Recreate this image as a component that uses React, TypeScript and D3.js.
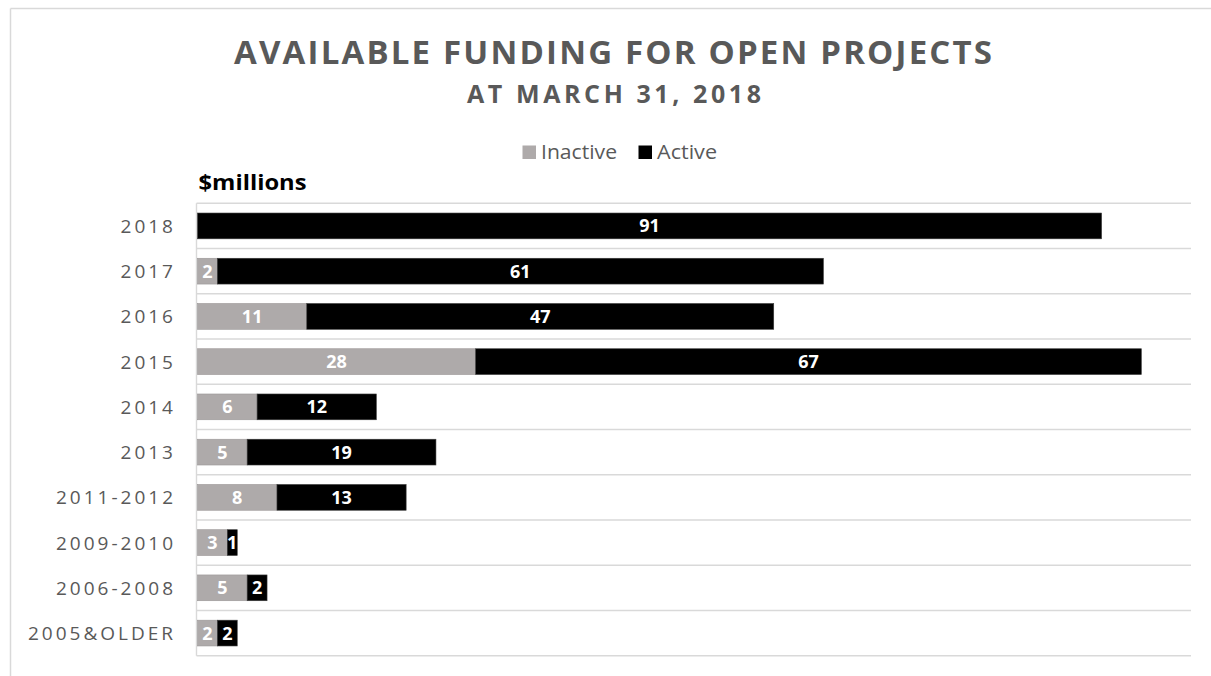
import React from "react";
import * as d3 from "d3";

const categories = ["2018", "2017", "2016", "2015", "2014", "2013", "2011-2012", "2009-2010", "2006-2008", "2005&OLDER"];
const inactive = [0, 2, 11, 28, 6, 5, 8, 3, 5, 2];
const active = [91, 61, 47, 67, 12, 19, 13, 1, 2, 2];
const seriesNames = ["Inactive", "Active"];
const seriesColors = ["#aeaaaa", "#000000"];
const title = "AVAILABLE FUNDING FOR OPEN PROJECTS";
const subtitle = "AT MARCH 31, 2018";
const unitLabel = "$millions";

const W = 1211;
const H = 676;
const FONT = "'Open Sans', 'DejaVu Sans', sans-serif";
const GRID = "#d9d9d9";
const TXT = "#595959";

export default function App() {
  const x = d3.scaleLinear().domain([0, 100]).range([197.5, 1191]);
  const y = d3.scaleBand<string>().domain(categories).range([203.3, 655.7]).paddingInner(0).paddingOuter(0);
  const bw = y.bandwidth();
  const barH = bw * 0.57;

  const rows = categories.map((c, i) => ({ c, vals: [inactive[i], active[i]] }));

  return (
    <svg width={W} height={H} style={{ position: "absolute", left: 0, top: 0, background: "#fff" }} fontFamily={FONT}>
      <rect x={0} y={0} width={W} height={H} fill="#fff" />
      {/* chart border */}
      <line x1={10.5} y1={8.5} x2={W} y2={8.5} stroke={GRID} strokeWidth={1.5} />
      <line x1={10.5} y1={8.5} x2={10.5} y2={H} stroke={GRID} strokeWidth={1.5} />

      {/* titles */}
      <text x={613} y={63.5} textAnchor="middle" fontSize={33} fontWeight={700} fill={TXT} textLength={758} lengthAdjust="spacing">{title}</text>
      <text x={614} y={103} textAnchor="middle" fontSize={25} fontWeight={700} fill={TXT} textLength={294} lengthAdjust="spacing">{subtitle}</text>

      {/* legend */}
      {seriesNames.map((s, i) => {
        const lx = [522.5, 638.5][i];
        const tw = [76, 60][i];
        return (
          <g key={s}>
            <rect x={lx} y={145.5} width={13.5} height={13.5} fill={seriesColors[i]} />
            <text x={lx + 18.5} y={159} fontSize={19.5} fill={TXT} textLength={tw} lengthAdjust="spacingAndGlyphs">{s}</text>
          </g>
        );
      })}

      {/* unit label */}
      <text x={198.5} y={189.5} fontSize={21} fontWeight={700} fill="#000" textLength={108} lengthAdjust="spacingAndGlyphs">{unitLabel}</text>

      {/* gridlines */}
      {categories.map((c) => (
        <line key={"g" + c} x1={x(0) - 1} x2={x(100)} y1={y(c)!} y2={y(c)!} stroke={GRID} strokeWidth={1.4} />
      ))}
      <line x1={x(0) - 1} x2={x(100)} y1={y.range()[1]} y2={y.range()[1]} stroke={GRID} strokeWidth={1.4} />
      <line x1={x(0) - 1} x2={x(0) - 1} y1={y.range()[0]} y2={y.range()[1]} stroke={GRID} strokeWidth={1.4} />

      {/* y labels */}
      {categories.map((c) => (
        <text key={"l" + c} x={173 + 3} y={y(c)! + bw / 2 + 7} textAnchor="end" fontSize={19} fill={TXT} letterSpacing={3}>{c}</text>
      ))}

      {/* bars */}
      {rows.map((r) => {
        let acc = 0;
        const by = y(r.c)! + (bw - barH) / 2;
        return (
          <g key={"b" + r.c}>
            {r.vals.map((v, si) => {
              const x0 = x(acc);
              acc += v;
              const x1 = x(acc);
              if (v <= 0) return null;
              return (
                <g key={si}>
                  <rect x={x0} y={by} width={x1 - x0} height={barH} fill={seriesColors[si]} stroke={si === 0 ? "#9a9696" : "#3a3a3a"} strokeWidth={0.6} />
                  <text x={(x0 + x1) / 2} y={by + barH / 2 + 6.5} textAnchor="middle" fontSize={18} fontWeight={700} fill="#fff">{v}</text>
                </g>
              );
            })}
          </g>
        );
      })}
    </svg>
  );
}
